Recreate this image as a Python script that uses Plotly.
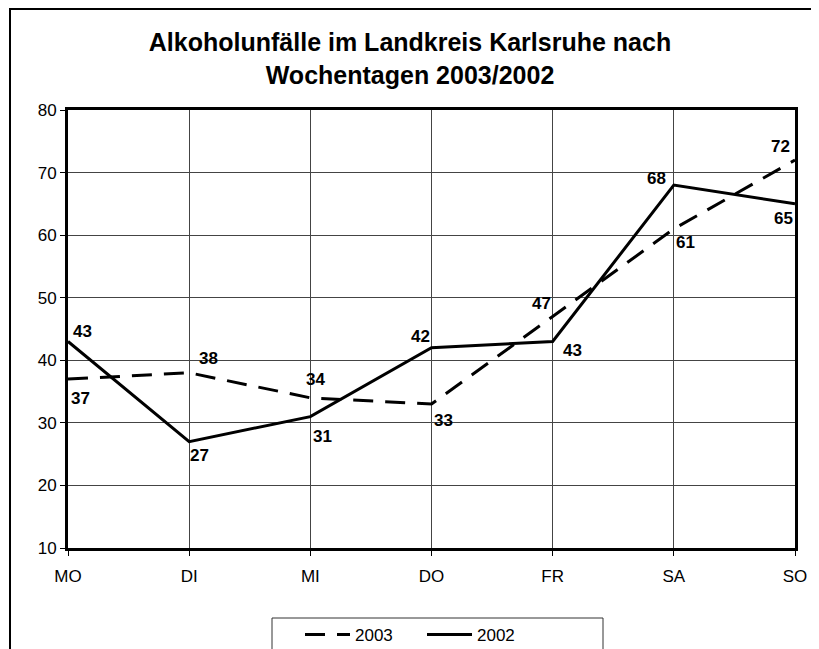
import plotly.graph_objects as go

days = ["MO", "DI", "MI", "DO", "FR", "SA", "SO"]
y2003 = [37, 38, 34, 33, 47, 61, 72]
y2002 = [43, 27, 31, 42, 43, 68, 65]

# label offsets (pixels: right, up) for the value labels
off2003 = [(12, -19), (19, 14), (5, 18), (12, -16), (-11, 13), (12, -14), (-15, 14)]
off2002 = [(14, 10), (10, -14), (12, -20), (-11, 11), (20, -9), (-17, 7), (-12, -15)]

FONT = "Liberation Sans, Arial, sans-serif"

# page body has an 8px margin, so the figure is sized/offset to compensate
W, H = 811, 641
L, T = 60, 102
PW, PH = 727, 438

fig = go.Figure()
fig.add_trace(go.Scatter(
    x=days, y=y2003, name="2003", mode="lines",
    line=dict(color="black", width=3, dash="20px,12px"),
))
fig.add_trace(go.Scatter(
    x=days, y=y2002, name="2002", mode="lines",
    line=dict(color="black", width=3),
))

annotations = []
for xs, ys, offs in ((days, y2003, off2003), (days, y2002, off2002)):
    for xv, yv, (dx, dy) in zip(xs, ys, offs):
        annotations.append(dict(
            x=xv, y=yv, xref="x", yref="y", text=f"<b>{yv}</b>",
            showarrow=False, xshift=dx, yshift=dy,
            font=dict(family=FONT, size=17, color="black"),
        ))

fig.update_layout(
    width=W, height=H,
    margin=dict(l=L, r=W - L - PW, t=T, b=H - T - PH, autoexpand=False),
    paper_bgcolor="white", plot_bgcolor="white",
    font=dict(family=FONT, size=17, color="black"),
    title=dict(
        text="<b>Alkoholunfälle im Landkreis Karlsruhe nach<br>Wochentagen 2003/2002</b>",
        x=(410 - 8) / W, xanchor="center", y=1 - 43 / H, yanchor="middle",
        font=dict(family=FONT, size=25, color="black"),
    ),
    showlegend=True,
    legend=dict(
        orientation="h", x=(300 - 8 - L) / PW, xanchor="left",
        y=(540 - 609) / PH, yanchor="top",
        borderwidth=0, bgcolor="rgba(0,0,0,0)",
        font=dict(family=FONT, size=17, color="black"),
        itemwidth=45, entrywidth=62, entrywidthmode="pixels",
        traceorder="normal",
    ),
    annotations=annotations,
    xaxis=dict(
        type="category", range=[0, 6], showgrid=True, gridcolor="#444", gridwidth=1,
        showline=True, linecolor="black", linewidth=3, mirror=True,
        ticks="outside", ticklen=5, tickcolor="black", zeroline=False,
        ticklabelstandoff=6,
        tickfont=dict(family=FONT, size=17, color="black"),
    ),
    yaxis=dict(
        range=[10, 80], dtick=10, showgrid=True, gridcolor="#444", gridwidth=1,
        showline=True, linecolor="black", linewidth=3, mirror=True,
        ticks="outside", ticklen=5, tickcolor="black", zeroline=False,
        tickfont=dict(family=FONT, size=17, color="black"),
    ),
    shapes=[
        dict(
            type="rect", xref="paper", yref="paper",
            x0=(2 - L) / PW, x1=(805 - L) / PW,
            y0=-0.35, y1=(540 - 1) / PH,
            line=dict(color="black", width=2), fillcolor="rgba(0,0,0,0)",
            layer="below",
        ),
        dict(
            type="rect", xref="paper", yref="paper",
            x0=(272 - 8 - L) / PW, x1=(603 - 8 - L) / PW,
            y0=-0.3, y1=(540 - 610) / PH,
            line=dict(color="#333", width=1), fillcolor="white",
            layer="below",
        ),
    ],
)

fig.write_html("out.html")
